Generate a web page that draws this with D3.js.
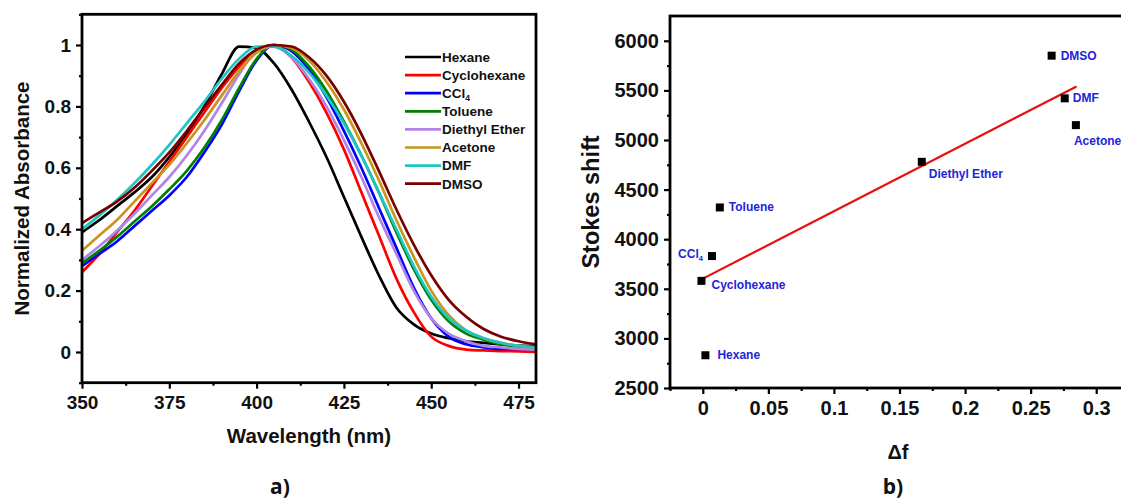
<!DOCTYPE html>
<html>
	<head>
		<meta charset="utf-8">
		<title>Absorbance and Stokes shift</title>
		<script src="https://d3js.org/d3.v7.min.js"></script>
		<style type="text/css">
			body { margin: 0; background: #fff; }
			svg text { font-family: "Liberation Sans", Arial, sans-serif; font-weight: bold; }
		</style>
	</head>
	<body>
		<script type="text/javascript">

			// ---- panel a data ----
			var wavelengths = [350, 355, 360, 365, 370, 375, 380, 385, 390, 395, 400, 405, 410,
				415, 420, 425, 430, 435, 440, 445, 450, 455, 460, 465, 470, 475, 480];

			var solvents = ['Hexane', 'Cyclohexane', 'CCl4', 'Toluene', 'Diethyl Ether', 'Acetone', 'DMF', 'DMSO'];

			var hexane = [0.39, 0.43, 0.475, 0.52, 0.57, 0.635, 0.71, 0.80, 0.905, 0.995, 0.99, 0.94, 0.855,
				0.75, 0.635, 0.505, 0.375, 0.25, 0.145, 0.09, 0.06, 0.045, 0.035, 0.03, 0.025, 0.02, 0.02];
			var cyclohexane = [0.26, 0.32, 0.39, 0.46, 0.54, 0.62, 0.70, 0.78, 0.86, 0.93, 0.985, 1.0, 0.96,
				0.88, 0.78, 0.66, 0.52, 0.38, 0.24, 0.13, 0.05, 0.02, 0.008, 0.005, 0.003, 0.002, 0.0];
			var ccl4 = [0.28, 0.32, 0.36, 0.41, 0.46, 0.51, 0.57, 0.65, 0.74, 0.85, 0.95, 1.0, 0.98,
				0.92, 0.83, 0.72, 0.60, 0.47, 0.34, 0.21, 0.11, 0.05, 0.025, 0.015, 0.01, 0.01, 0.01];
			var toluene = [0.29, 0.33, 0.375, 0.425, 0.475, 0.53, 0.59, 0.665, 0.755, 0.86, 0.955, 1.0, 0.985,
				0.93, 0.85, 0.75, 0.64, 0.52, 0.39, 0.27, 0.17, 0.10, 0.06, 0.04, 0.025, 0.02, 0.015];
			var diethylEther = [0.30, 0.345, 0.395, 0.45, 0.51, 0.57, 0.64, 0.72, 0.81, 0.905, 0.98, 0.995, 0.96,
				0.89, 0.80, 0.69, 0.57, 0.44, 0.32, 0.20, 0.11, 0.06, 0.035, 0.02, 0.015, 0.01, 0.01];
			var acetone = [0.33, 0.38, 0.43, 0.49, 0.55, 0.61, 0.68, 0.755, 0.835, 0.915, 0.975, 1.0, 0.99,
				0.95, 0.88, 0.79, 0.68, 0.56, 0.43, 0.31, 0.20, 0.12, 0.07, 0.045, 0.03, 0.02, 0.015];
			var dmf = [0.40, 0.445, 0.495, 0.55, 0.61, 0.675, 0.745, 0.815, 0.89, 0.955, 0.995, 0.995, 0.965,
				0.91, 0.835, 0.745, 0.64, 0.52, 0.40, 0.28, 0.18, 0.11, 0.07, 0.045, 0.03, 0.02, 0.015];
			var dmso = [0.42, 0.455, 0.49, 0.535, 0.59, 0.65, 0.72, 0.795, 0.87, 0.94, 0.985, 1.0, 0.995,
				0.96, 0.90, 0.815, 0.71, 0.59, 0.465, 0.35, 0.25, 0.17, 0.115, 0.075, 0.05, 0.035, 0.025];

			var spectra = [hexane, cyclohexane, ccl4, toluene, diethylEther, acetone, dmf, dmso];
			var lineColors = ['#000000', '#ff0000', '#0000ff', '#008000', '#b085e6', '#c8961e', '#1cc6c6', '#7a0000'];

			var aXTicks = [350, 375, 400, 425, 450, 475];
			var aYTicks = [0, 0.2, 0.4, 0.6, 0.8, 1];

			// ---- panel b data ----
			var pointNames = ['Hexane', 'Cyclohexane', 'CCl4', 'Toluene', 'Diethyl Ether', 'DMSO', 'DMF', 'Acetone'];
			var deltaF = [0.002, -0.001, 0.007, 0.013, 0.167, 0.266, 0.276, 0.2845];
			var stokesShift = [2830, 3580, 3830, 4320, 4780, 5850, 5420, 5150];
			var fitDf = [-0.001, 0.285];
			var fitShift = [3595, 5540];

			var bXTicks = [0, 0.05, 0.1, 0.15, 0.2, 0.25, 0.3];
			var bYTicks = [2500, 3000, 3500, 4000, 4500, 5000, 5500, 6000];

			// label offsets (layout only)
			var labelPos = {
				'Hexane': [12, 4, 'start'],
				'Cyclohexane': [10, 8, 'start'],
				'CCl4': [-9, 2, 'end'],
				'Toluene': [9, 4, 'start'],
				'Diethyl Ether': [7, 16, 'start'],
				'DMSO': [9, 4, 'start'],
				'DMF': [8, 4, 'start'],
				'Acetone': [-2, 20, 'start']
			};

			var svg = d3.select('body')
				.append('svg')
				.attr('width', 1121)
				.attr('height', 500);

			// write a name, CCl4 gets a subscript 4
			function solventText(sel, name, subSize) {
				if (name === 'CCl4') {
					sel.append('tspan').text('CCl');
					sel.append('tspan').text('4').attr('font-size', subSize).attr('dy', 3);
				} else {
					sel.text(name);
				}
			}

			// =========== panel a ===========
			var ax = d3.scaleLinear().domain([350, 480]).range([82, 536]);
			var ay = d3.scaleLinear().domain([-0.1, 1.1]).range([382.7, 14.3]);

			svg.append('clipPath').attr('id', 'clipA')
				.append('rect')
				.attr('x', ax(350)).attr('y', ay(1.1))
				.attr('width', ax(480) - ax(350)).attr('height', ay(-0.1) - ay(1.1));

			var line = d3.line()
				.x(function(d, i) { return ax(wavelengths[i]); })
				.y(function(d) { return ay(d); })
				.curve(d3.curveMonotoneX);

			svg.append('g').attr('clip-path', 'url(#clipA)')
				.selectAll('path')
				.data(spectra)
				.enter()
				.append('path')
				.attr('d', line)
				.attr('fill', 'none')
				.attr('stroke', function(d, i) { return lineColors[i]; })
				.attr('stroke-width', 2.7);

			// minor ticks
			var aXMinor = d3.range(362.5, 480, 25);
			var aYMinor = d3.range(-0.1, 1.15, 0.2);

			var gAx = svg.append('g').attr('transform', 'translate(0,' + ay(-0.1) + ')');
			gAx.call(d3.axisBottom(ax).tickValues(aXTicks).tickSize(6).tickPadding(7).tickFormat(d3.format('d')));
			gAx.append('g').call(d3.axisBottom(ax).tickValues(aXMinor).tickSize(3).tickFormat(''));

			var gAy = svg.append('g').attr('transform', 'translate(' + ax(350) + ',0)');
			gAy.call(d3.axisLeft(ay).tickValues(aYTicks).tickSize(6).tickPadding(5).tickFormat(function(d) { return d === 0 || d === 1 ? d : d.toFixed(1); }));
			gAy.append('g').call(d3.axisLeft(ay).tickValues(aYMinor).tickSize(3).tickFormat(''));

			[gAx, gAy].forEach(function(g) {
				g.selectAll('.domain').remove();
				g.selectAll('line').attr('stroke', '#000').attr('stroke-width', 2.2);
				g.selectAll('text').attr('font-size', '19px').attr('fill', '#111');
			});

			svg.append('rect')
				.attr('x', ax(350)).attr('y', ay(1.1))
				.attr('width', ax(480) - ax(350)).attr('height', ay(-0.1) - ay(1.1))
				.attr('fill', 'none').attr('stroke', '#000').attr('stroke-width', 2.8);

			svg.append('text')
				.attr('x', (ax(350) + ax(480)) / 2).attr('y', 443)
				.attr('text-anchor', 'middle').attr('font-size', '20.5px').attr('fill', '#111')
				.text('Wavelength (nm)');

			svg.append('text')
				.attr('transform', 'translate(29,' + ((ay(-0.1) + ay(1.1)) / 2) + ') rotate(-90)')
				.attr('text-anchor', 'middle').attr('font-size', '20.5px').attr('fill', '#111')
				.text('Normalized Absorbance');

			// legend
			var legend = svg.append('g').attr('transform', 'translate(405,57)');
			solvents.forEach(function(name, i) {
				var row = legend.append('g').attr('transform', 'translate(0,' + (i * 18.1) + ')');
				row.append('line')
					.attr('x1', 0).attr('x2', 36).attr('y1', 0).attr('y2', 0)
					.attr('stroke', lineColors[i]).attr('stroke-width', 2.7);
				var t = row.append('text')
					.attr('x', 37).attr('y', 4.8)
					.attr('font-size', '13.5px').attr('fill', '#111');
				solventText(t, name, '8.5px');
			});

			svg.append('text')
				.attr('x', 280).attr('y', 494)
				.attr('text-anchor', 'middle')
				.style('font-family', '"Open Sans", sans-serif')
				.attr('font-size', '21px').attr('fill', '#111')
				.text('a)');

			// =========== panel b ===========
			var bx = d3.scaleLinear().domain([-0.025, 0.325]).range([670, 1129]);
			var by = d3.scaleLinear().domain([2500, 6250]).range([388, 16]);

			var bXMinor = d3.range(-0.025, 0.33, 0.05);
			var bYMinor = d3.range(2750, 6250, 500);

			var gBx = svg.append('g').attr('transform', 'translate(0,' + by(2500) + ')');
			gBx.call(d3.axisBottom(bx).tickValues(bXTicks).tickSize(6).tickPadding(7).tickFormat(function(d) { return d === 0 ? '0' : d3.format('~g')(d); }));
			gBx.append('g').call(d3.axisBottom(bx).tickValues(bXMinor).tickSize(3).tickFormat(''));

			var gBy = svg.append('g').attr('transform', 'translate(' + bx(-0.025) + ',0)');
			gBy.call(d3.axisLeft(by).tickValues(bYTicks).tickSize(6).tickPadding(5).tickFormat(d3.format('d')));
			gBy.append('g').call(d3.axisLeft(by).tickValues(bYMinor).tickSize(3).tickFormat(''));

			[gBx, gBy].forEach(function(g) {
				g.selectAll('.domain').remove();
				g.selectAll('line').attr('stroke', '#000').attr('stroke-width', 2.2);
				g.selectAll('text').attr('font-size', '20px').attr('fill', '#111');
			});

			svg.append('rect')
				.attr('x', bx(-0.025)).attr('y', by(6250))
				.attr('width', bx(0.325) - bx(-0.025)).attr('height', by(2500) - by(6250))
				.attr('fill', 'none').attr('stroke', '#000').attr('stroke-width', 2.8);

			svg.append('line')
				.attr('x1', bx(fitDf[0])).attr('y1', by(fitShift[0]))
				.attr('x2', bx(fitDf[1])).attr('y2', by(fitShift[1]))
				.attr('stroke', '#e8100c').attr('stroke-width', 2.2);

			svg.selectAll('rect.pt')
				.data(pointNames)
				.enter()
				.append('rect')
				.attr('class', 'pt')
				.attr('x', function(d, i) { return bx(deltaF[i]) - 4; })
				.attr('y', function(d, i) { return by(stokesShift[i]) - 4; })
				.attr('width', 8).attr('height', 8)
				.attr('fill', '#000');

			pointNames.forEach(function(name, i) {
				var p = labelPos[name];
				var t = svg.append('text')
					.attr('x', bx(deltaF[i]) + p[0])
					.attr('y', by(stokesShift[i]) + p[1])
					.attr('text-anchor', p[2])
					.attr('font-size', '12px')
					.attr('fill', '#2323dc');
				solventText(t, name, '7.5px');
			});

			svg.append('text')
				.attr('transform', 'translate(599,' + ((by(2500) + by(6250)) / 2) + ') rotate(-90)')
				.attr('text-anchor', 'middle').attr('font-size', '23.5px').attr('fill', '#111')
				.text('Stokes shift');

			svg.append('text')
				.attr('x', 898).attr('y', 459)
				.attr('text-anchor', 'middle').attr('font-size', '20px').attr('fill', '#111')
				.text('\u0394f');

			svg.append('text')
				.attr('x', 893).attr('y', 494)
				.attr('text-anchor', 'middle')
				.style('font-family', '"Open Sans", sans-serif')
				.attr('font-size', '21px').attr('fill', '#111')
				.text('b)');

		</script>
	</body>
</html>
